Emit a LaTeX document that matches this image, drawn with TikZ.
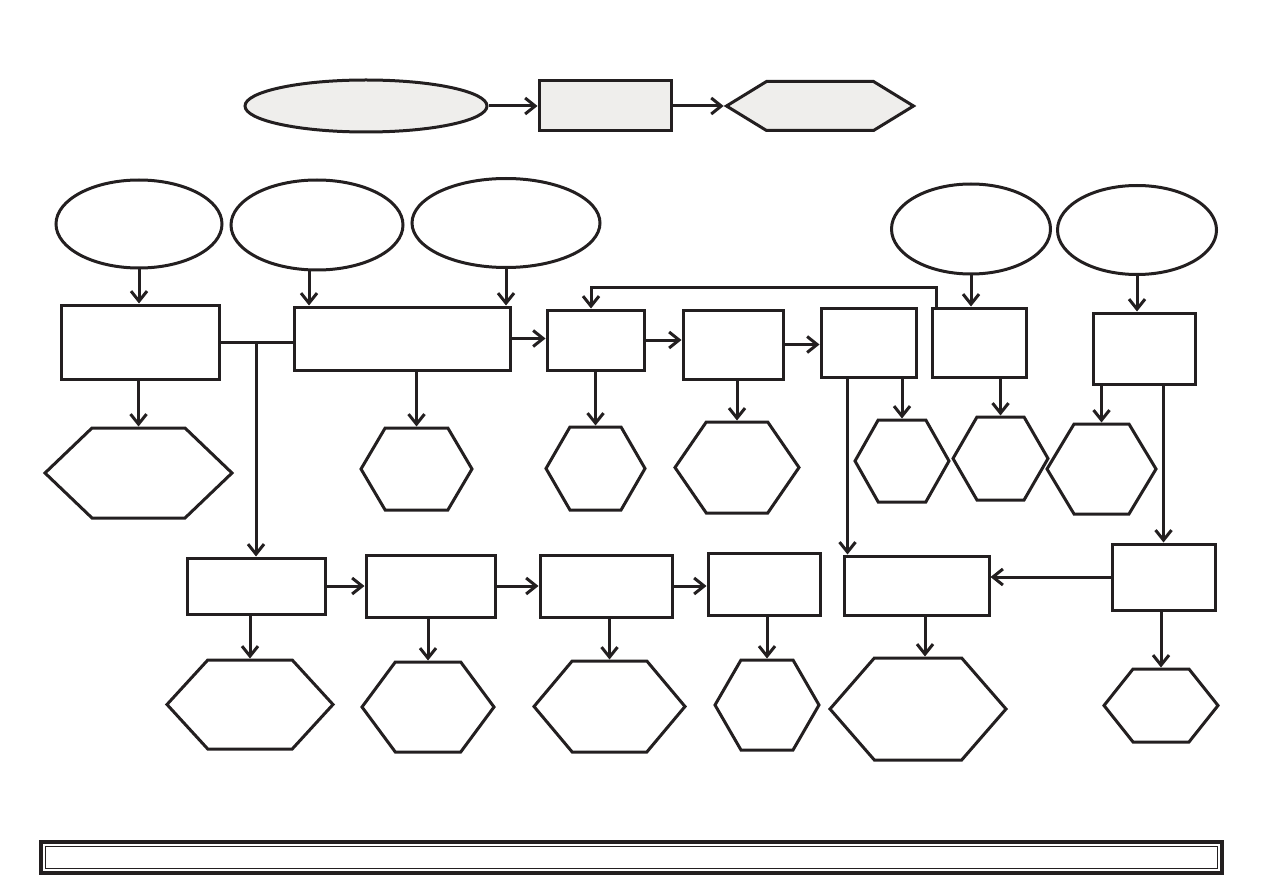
\documentclass[tikz,border=0pt]{standalone}
\usepackage{tikz}
\usetikzlibrary{shapes.geometric,shapes.symbols,arrows.meta}
\definecolor{panelgrey}{RGB}{239,238,236}
\definecolor{ink}{RGB}{35,31,32}

\begin{document}
\begin{tikzpicture}[x=1pt,y=-1pt,
    every node/.style={draw=ink,line width=3pt,inner sep=0pt},
    box/.style={rectangle},
    oval/.style={ellipse},
    hexa/.style={signal,signal to=east and west,signal pointer angle=#1},
    arr/.style={draw=ink,line width=3pt,-{Straight Barb[length=10pt,width=16pt]}},
    ln/.style={draw=ink,line width=3pt}]
  \useasboundingbox (0,0) rectangle (1263,893);

  % legend row
  \node[oval,fill=panelgrey,minimum width=242,minimum height=52] (e0) at (366,106) {};
  \node[box,fill=panelgrey,minimum width=132,minimum height=50] (r0) at (605,106) {};
  \node[hexa=63,fill=panelgrey,minimum width=187,minimum height=49] (h0) at (820,106) {};
  \draw[arr] (e0) -- (r0);
  \draw[arr] (r0) -- (h0);

  % inputs
  \node[oval,minimum width=166,minimum height=88] (a1) at (139,224) {};
  \node[oval,minimum width=172,minimum height=90] (a2) at (317,225) {};
  \node[oval,minimum width=188,minimum height=89] (a3) at (506,223) {};
  \node[oval,minimum width=159,minimum height=90] (a4) at (971,229) {};
  \node[oval,minimum width=159,minimum height=89] (a5) at (1137,230) {};

  % upper chain
  \node[box,minimum width=158,minimum height=74] (b1) at (140,342) {};
  \node[box,minimum width=216,minimum height=63] (b2) at (402,338.5) {};
  \node[box,minimum width=97,minimum height=60] (b3) at (595.5,340) {};
  \node[box,minimum width=100,minimum height=69] (b4) at (733,344.5) {};
  \node[box,minimum width=95,minimum height=69] (b5) at (868.5,342.5) {};
  \node[box,minimum width=94,minimum height=69] (b6) at (979,342.5) {};
  \node[box,minimum width=102,minimum height=71] (b7) at (1144,348.5) {};

  % lower chain
  \node[box,minimum width=138,minimum height=56] (b8) at (256,586) {};
  \node[box,minimum width=129,minimum height=62] (b9) at (430.5,586) {};
  \node[box,minimum width=132,minimum height=62] (b10) at (606,586) {};
  \node[box,minimum width=112,minimum height=62] (b11) at (764,584) {};
  \node[box,minimum width=145,minimum height=59] (b12) at (916.5,585.5) {};
  \node[box,minimum width=103,minimum height=66] (b13) at (1163.5,577) {};

  % outputs
  \node[hexa=87.5,minimum width=187,minimum height=90] (h1) at (138.5,473) {};
  \node[hexa=119,minimum width=111,minimum height=82] (h2) at (416.5,469) {};
  \node[hexa=120,minimum width=99,minimum height=83] (h3) at (595.5,468.5) {};
  \node[hexa=111,minimum width=124,minimum height=91] (h4) at (737,467.5) {};
  \node[hexa=121,minimum width=94,minimum height=82] (h5) at (902,461) {};
  \node[hexa=120,minimum width=95,minimum height=83] (h6) at (1000.5,458.5) {};
  \node[hexa=118,minimum width=109,minimum height=90] (h7) at (1101.5,469) {};
  \node[hexa=95,minimum width=166,minimum height=89] (h8) at (250,704.5) {};
  \node[hexa=107,minimum width=132,minimum height=90] (h9) at (428,707) {};
  \node[hexa=100,minimum width=151,minimum height=91] (h10) at (609.5,706.5) {};
  \node[hexa=120,minimum width=104,minimum height=90] (h11) at (767,705) {};
  \node[hexa=98,minimum width=176,minimum height=102] (h12) at (918,709) {};
  \node[hexa=103,minimum width=114,minimum height=73] (h13) at (1161,705.5) {};

  % inputs into boxes
  \draw[arr] (a1.south) -- (a1.south |- b1.north);
  \draw[arr] ([xshift=-8pt]a2.south) -- ([xshift=-8pt]a2.south |- b2.north);
  \draw[arr] (a3.south) -- (a3.south |- b2.north);
  \draw[arr] (a4.south) -- (a4.south |- b6.north);
  \draw[arr] (a5.south) -- (a5.south |- b7.north);

  % horizontal flow
  \draw[ln] (b1.east) -- (b1.east -| b2.west);
  \draw[arr] (b1.east -| b8.north) -- (b8.north);
  \draw[arr] (b2.east) -- (b2.east -| b3.west);
  \draw[arr] (b3.east) -- (b3.east -| b4.west);
  \draw[arr] (b4.east) -- (b4.east -| b5.west);
  \draw[arr] ([xshift=6pt]b6.north west) -- ++(0,-19) -| ([xshift=-4.5pt]b3.north);
  \draw[arr] (b8.east) -- (b8.east -| b9.west);
  \draw[arr] (b9.east) -- (b9.east -| b10.west);
  \draw[arr] (b10.east) -- (b10.east -| b11.west);
  \draw[arr] ([xshift=28pt]b5.south west) -- ([xshift=28pt]b5.south west |- b12.north);
  \draw[arr] (b7.south -| b13.north) -- (b13.north);
  \draw[arr] (b13.west) -- (b13.west -| b12.east);

  % boxes into outputs
  \foreach \b/\h in {b1/h1,b2/h2,b3/h3,b4/h4,b5/h5,b6/h6,b7/h7,
                     b8/h8,b9/h9,b10/h10,b11/h11,b13/h13}
    \draw[arr] (\b.south -| \h.north) -- (\h.north);
  \draw[arr] ([xshift=7pt]b12.south -| h12.north) -- ([xshift=7pt]h12.north);

  % footer bar
  \draw[ink,line width=3.5pt] (41,842) rectangle (1222,873);
  \draw[ink,line width=1.2pt] (45.5,846.5) rectangle (1217.5,868.5);
\end{tikzpicture}
\end{document}
